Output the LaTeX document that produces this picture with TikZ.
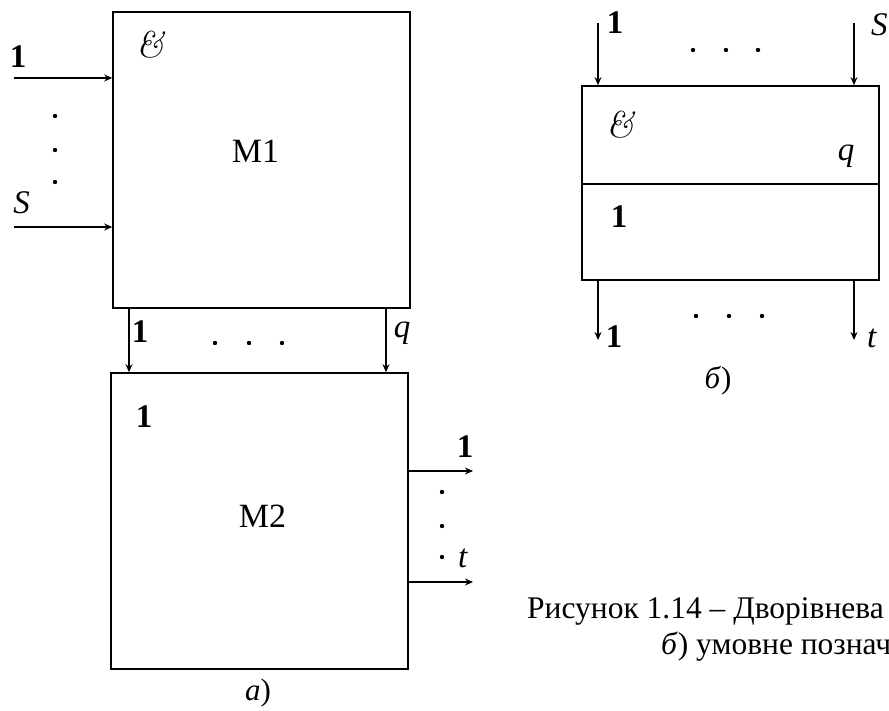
\documentclass[tikz,border=0pt]{standalone}
\usepackage{fontspec}
\setmainfont{Liberation Serif}
\newfontfamily\lmfont{Latin Modern Roman}
\usetikzlibrary{arrows.meta}

\tikzset{
  block/.style={draw, line width=1.6pt, inner sep=0pt, minimum width=297pt},
  sig/.style={line width=1.3pt, -{Stealth[length=8pt,width=7pt]}},
  lab/.style={inner sep=0pt, anchor=base, font=\fontsize{33}{38}\selectfont},
  amp/.style={inner sep=0pt, anchor=base, font=\lmfont\itshape\fontsize{37}{42}\selectfont},
  sub/.style={inner sep=0pt, anchor=base, font=\fontsize{31}{36}\selectfont},
  captext/.style={inner sep=0pt, anchor=base west, font=\fontsize{31.5}{36}\selectfont},
  dot/.style={circle, fill, inner sep=0pt, minimum size=4.4pt},
}

\begin{document}
\begin{tikzpicture}[x=1pt,y=-1pt]
\useasboundingbox (0,0) rectangle (889,710);
\clip (0,0) rectangle (889,710);

% a) two stages M1 and M2
\node[block, minimum height=296pt] (m1) at (261.5,160) {};
\node[block, minimum height=296pt] (m2) at (259.5,521) {};

% inputs of M1
\coordinate (x1) at (14,78);
\coordinate (xs) at (14,227);
\draw[sig] (x1) -- (x1 -| m1.west);
\draw[sig] (xs) -- (xs -| m1.west);
\node[lab] (x1lab) at (18,67) {\textbf{1}};
\node[lab] (xslab) at (21.5,213) {\textit{S}};
\foreach \y in {116,150,182}
  \node[dot] (xdot\y) at (55,\y) {};

% links M1 -> M2
\coordinate (z1) at (129,308);
\coordinate (zq) at (386,308);
\draw[sig] (z1) -- (z1 |- m2.north);
\draw[sig] (zq) -- (zq |- m2.north);
\node[lab] (z1lab) at (140,342) {\textbf{1}};
\node[lab] (zqlab) at (402,337) {\textit{q}};
\foreach \x in {215,249,282}
  \node[dot] (zdot\x) at (\x,343) {};

% outputs of M2
\coordinate (o1) at (473,471);
\coordinate (ot) at (473,582);
\draw[sig] (o1 -| m2.east) -- (o1);
\draw[sig] (ot -| m2.east) -- (ot);
\node[lab] (o1lab) at (465,457) {\textbf{1}};
\node[lab] (otlab) at (463,567) {\textit{t}};
\foreach \y in {492,526,557}
  \node[dot] (odot\y) at (442,\y) {};

\node[amp] (and1) at (150,57) {\&};
\node[lab, font=\fontsize{34}{40}\selectfont] (name1) at (255.5,162) {M1};
\node[lab] (or2) at (144,427) {\textbf{1}};
\node[lab, font=\fontsize{34}{40}\selectfont] (name2) at (262.5,527) {M2};
\node[sub] (suba) at (258,700) {\textit{а})};

% b) the same circuit as one symbol
\node[block, minimum height=98pt] (andpart) at (730.5,135) {};
\node[block, minimum height=96pt] (orpart) at (730.5,232) {};

\coordinate (r1) at (598,23);
\coordinate (rs) at (854,23);
\draw[sig] (r1) -- (r1 |- andpart.north);
\draw[sig] (rs) -- (rs |- andpart.north);
\node[lab] (r1lab) at (615,33) {\textbf{1}};
\node[lab, anchor=base west] (rslab) at (871,35) {\textit{S}};
\foreach \x in {693,726,758}
  \node[dot] (rdot\x) at (\x,50) {};

\coordinate (f1) at (598,340);
\coordinate (ft) at (854,340);
\draw[sig] (f1 |- orpart.south) -- (f1);
\draw[sig] (ft |- orpart.south) -- (ft);
\node[lab] (f1lab) at (614,347) {\textbf{1}};
\node[lab] (ftlab) at (872,347) {\textit{t}};
\foreach \x in {696,729,762}
  \node[dot] (fdot\x) at (\x,316) {};

\node[amp] (and2) at (620,137) {\&};
\node[lab] (q2) at (846,160) {\textit{q}};
\node[lab] (or3) at (619,227) {\textbf{1}};
\node[sub] (subb) at (718,388) {\textit{б})};

% caption
\node[captext] (cap1) at (527,618) {Рисунок 1.14 – Дворівнева};
\node[captext] (cap2) at (661,654) {\textit{б}) умовне познач};
\end{tikzpicture}
\end{document}
